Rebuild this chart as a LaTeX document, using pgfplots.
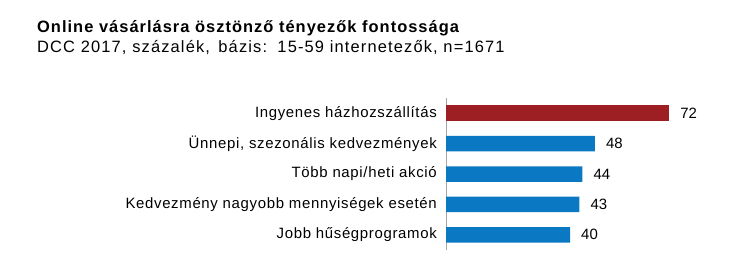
\documentclass[border=0pt]{standalone}
\usepackage{pgfplots}
\pgfplotsset{compat=1.18}
\usepackage{fontspec}
\setmainfont{Liberation Sans}
\definecolor{barred}{HTML}{9E1F23}
\definecolor{barblue}{HTML}{0A78C2}
\definecolor{axgray}{HTML}{A6A6A6}
\begin{document}
\begin{tikzpicture}[x=1bp,y=1bp]
\path[use as bounding box] (0,0) rectangle (751,-271);
\node[anchor=base west,inner sep=0pt,font=\fontsize{16.5}{18}\selectfont\bfseries\addfontfeature{LetterSpace=6.2}] at (37,-32) {Online vásárlásra ösztönző tényezők fontossága};
\node[anchor=base west,inner sep=0pt,font=\fontsize{16.5}{18}\selectfont\addfontfeature{LetterSpace=7}] at (37,-52) {DCC 2017, százalék,\, bázis:\, 15-59 internetezők, n=1671};
\begin{axis}[
  at={(446bp,-250bp)}, anchor=south west,
  scale only axis, width=310bp, height=152bp,
  xmin=0, xmax=100, ymin=-0.5, ymax=4.5, y dir=reverse,
  xbar, bar shift=0pt, bar width=15.5bp,
  axis x line=none, axis y line*=left,
  y axis line style={draw=axgray, line width=0.8pt},
  ytick={0,1,2,3,4},
  yticklabels={Ingyenes házhozszállítás,{Ünnepi, szezonális kedvezmények},Több napi/heti akció,Kedvezmény nagyobb mennyiségek esetén,Jobb hűségprogramok},
  yticklabel style={font=\fontsize{15}{17}\selectfont\addfontfeature{LetterSpace=4.5}, anchor=east, inner sep=0pt, xshift=-9bp},
  major tick length=0pt,
  /pgf/number format/assume math mode=true,
  nodes near coords,
  nodes near coords style={font=\fontsize{15}{17}\selectfont, anchor=west, inner sep=0pt, xshift=11bp, text=black},
  point meta=x,
]
\addplot[fill=barred, draw=none] coordinates {(72,0)};
\addplot[fill=barblue, draw=none] coordinates {(48,1) (44,2) (43,3) (40,4)};
\end{axis}
\end{tikzpicture}
\end{document}
